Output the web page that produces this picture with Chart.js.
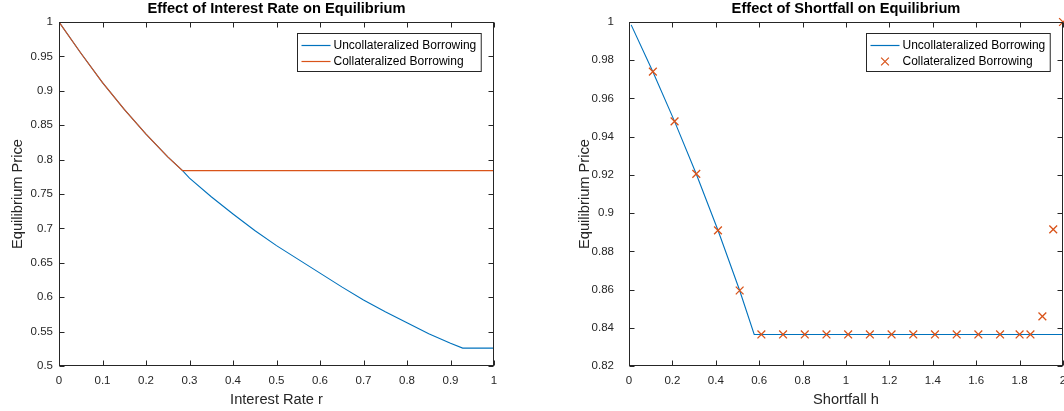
<!DOCTYPE html>
<html>
<head>
<meta charset="utf-8">
<script src="https://cdn.jsdelivr.net/npm/chart.js@4.4.0/dist/chart.umd.min.js"></script>
<style>
html, body { margin: 0; padding: 0; background: #fff; overflow: hidden; width: 1064px; height: 411px; }
#left { position: absolute; left: 0; top: 0; }
#right { position: absolute; left: 532px; top: 0; }
</style>
</head>
<body>
<canvas id="left" width="532" height="411"></canvas>
<canvas id="right" width="548" height="411"></canvas>
<script>
// left panel: interest rate r
const rateR = [0, 0.05, 0.1, 0.15, 0.2, 0.25, 0.284, 0.3, 0.35, 0.4, 0.45, 0.5, 0.55, 0.6, 0.65, 0.7, 0.75, 0.8, 0.85, 0.9, 0.928, 1];
const uncolPriceR = [1, 0.955, 0.912, 0.873, 0.837, 0.804, 0.784, 0.773, 0.746, 0.721, 0.697, 0.675, 0.655, 0.635, 0.615, 0.596, 0.579, 0.563, 0.547, 0.533, 0.526, 0.526];
const colRateR = [0, 0.05, 0.1, 0.15, 0.2, 0.25, 0.284, 1];
const colPriceR = [1, 0.955, 0.912, 0.873, 0.837, 0.804, 0.784, 0.784];

// right panel: shortfall h
const shortH = [0.01, 0.11, 0.21, 0.31, 0.41, 0.51, 0.577, 2];
const uncolPriceH = [0.9985, 0.974, 0.948, 0.9205, 0.891, 0.8595, 0.8365, 0.8365];
const colShortH = [0.11, 0.21, 0.31, 0.41, 0.51, 0.61, 0.71, 0.81, 0.91, 1.01, 1.11, 1.21, 1.31, 1.41, 1.51, 1.61, 1.71, 1.80, 1.85, 1.905, 1.955, 2.0];
const colPriceH = [0.974, 0.948, 0.9205, 0.891, 0.8595, 0.8365, 0.8365, 0.8365, 0.8365, 0.8365, 0.8365, 0.8365, 0.8365, 0.8365, 0.8365, 0.8365, 0.8365, 0.8365, 0.8365, 0.846, 0.8915, 1.0];

const seriesNames = ["Uncollateralized Borrowing", "Collateralized Borrowing"];
const BLUE = "#0072BD", ORANGE = "#D95319", AX = "#262626";
const FONT = "'Liberation Sans', Arial, Helvetica, sans-serif";

function pts(xs, ys) { return xs.map((v, i) => ({x: v, y: ys[i]})); }
function fmt(v) { return String(Number(v.toFixed(2))); }

// matlab-like box, inward ticks and boxed legend
const matlabAxes = {
  id: "matlabAxes",
  afterDraw(chart) {
    const {ctx, chartArea: a, scales: {x, y}} = chart;
    ctx.save();
    ctx.strokeStyle = AX;
    ctx.lineWidth = 1;
    const L = Math.round(a.left) + 0.5, R = Math.round(a.right) - 0.5;
    const T = Math.round(a.top) + 0.5, B = Math.round(a.bottom) - 0.5;
    ctx.strokeRect(L, T, R - L, B - T);
    ctx.beginPath();
    x.ticks.forEach(t => {
      const px = Math.round(x.getPixelForValue(t.value)) + 0.5;
      ctx.moveTo(px, B); ctx.lineTo(px, B - 5);
      ctx.moveTo(px, T); ctx.lineTo(px, T + 5);
    });
    y.ticks.forEach(t => {
      const py = Math.round(y.getPixelForValue(t.value)) + 0.5;
      ctx.moveTo(L, py); ctx.lineTo(L + 5, py);
      ctx.moveTo(R, py); ctx.lineTo(R - 5, py);
    });
    ctx.stroke();

    // legend
    ctx.font = "12px " + FONT;
    const ds = chart.data.datasets;
    const tw = Math.max(...ds.map(d => ctx.measureText(d.label).width));
    const w = 4 + 29 + 3 + tw + 5, h = 38;
    const bx = Math.round(a.right - 13 - w) + 0.5, by = Math.round(a.top + 11) + 0.5;
    ctx.fillStyle = "#fff";
    ctx.fillRect(bx, by, w, h);
    ctx.strokeStyle = AX;
    ctx.strokeRect(bx, by, w, h);
    ds.forEach((d, i) => {
      const cy = by + 12 + i * 16;
      ctx.strokeStyle = d.borderColor;
      if (d.showLine === false) {
        ctx.lineWidth = 1.2;
        Chart.helpers.drawPoint(ctx, {pointStyle: "crossRot", radius: 5.5, borderWidth: 1.2}, bx + 4 + 14.5, cy);
      } else {
        ctx.lineWidth = 1.2;
        ctx.beginPath();
        ctx.moveTo(bx + 4, cy); ctx.lineTo(bx + 33, cy);
        ctx.stroke();
      }
      ctx.fillStyle = "#000";
      ctx.textBaseline = "middle";
      ctx.textAlign = "left";
      ctx.fillText(d.label, bx + 36, cy + 0.5);
    });
    ctx.restore();
  }
};

function makeOptions(title, xTitle, xMin, xMax, xStep, yMin, yMax, yStep, yWidth, yTickPad, yTitlePad, padRight) {
  return {
    responsive: false,
    animation: false,
    layout: {padding: {left: 0, right: padRight, top: 0, bottom: 0}},
    plugins: {
      legend: {display: false},
      tooltip: {enabled: false},
      title: {
        display: true, text: title, color: "#000", fullSize: false,
        font: {family: FONT, size: 14.67, weight: "bold"},
        padding: {top: 0, bottom: 4.4}
      }
    },
    scales: {
      x: {
        type: "linear", min: xMin, max: xMax,
        afterFit: s => { s.height = 45; },
        grid: {display: false, drawTicks: false},
        border: {display: false},
        ticks: {stepSize: xStep, autoSkip: false, maxRotation: 0, padding: 8, color: AX,
                font: {family: FONT, size: 11.5}, callback: fmt},
        title: {display: true, text: xTitle, color: AX, font: {family: FONT, size: 14.67}, padding: {top: 0, bottom: 2.2}}
      },
      y: {
        type: "linear", min: yMin, max: yMax,
        afterFit: s => { s.width = yWidth; },
        grid: {display: false, drawTicks: false},
        border: {display: false},
        ticks: {stepSize: yStep, autoSkip: false, padding: yTickPad, color: AX,
                font: {family: FONT, size: 11.5}, callback: fmt},
        title: {display: true, text: "Equilibrium Price", color: AX, font: {family: FONT, size: 14.67}, padding: {top: yTitlePad, bottom: 0}}
      }
    }
  };
}

new Chart(document.getElementById("left"), {
  type: "scatter",
  data: {
    datasets: [
      {label: seriesNames[0], data: pts(rateR, uncolPriceR), showLine: true, borderColor: BLUE,
       borderWidth: 1.1, pointRadius: 0, order: 2},
      {label: seriesNames[1], data: pts(colRateR, colPriceR), showLine: true, borderColor: ORANGE,
       borderWidth: 1.1, pointRadius: 0, order: 1}
    ]
  },
  options: makeOptions("Effect of Interest Rate on Equilibrium", "Interest Rate r",
                       0, 1, 0.1, 0.5, 1, 0.05, 59, 6, 8.7, 38),
  plugins: [matlabAxes]
});

new Chart(document.getElementById("right"), {
  type: "scatter",
  data: {
    datasets: [
      {label: seriesNames[0], data: pts(shortH, uncolPriceH), showLine: true, borderColor: BLUE,
       borderWidth: 1.1, pointRadius: 0, order: 2},
      {label: seriesNames[1], data: pts(colShortH, colPriceH), showLine: false, borderColor: ORANGE,
       backgroundColor: ORANGE, pointStyle: "crossRot", pointRadius: 5.5, borderWidth: 1.3, clip: false, order: 1}
    ]
  },
  options: makeOptions("Effect of Shortfall on Equilibrium", "Shortfall h",
                       0, 2, 0.2, 0.82, 1, 0.02, 97, 15, 44.2, 17),
  plugins: [matlabAxes]
});
</script>
</body>
</html>
